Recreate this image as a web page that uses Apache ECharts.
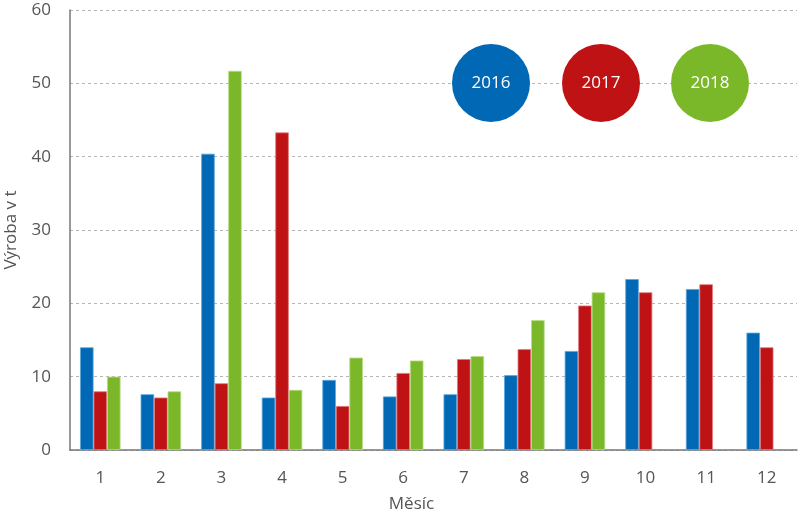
<!DOCTYPE html>
<html>
<head>
<meta charset="utf-8">
<script src="https://cdn.jsdelivr.net/npm/echarts@6/dist/echarts.min.js"></script>
<style>html,body{margin:0;padding:0;background:#fff}#c{width:800px;height:521px}</style>
</head>
<body>
<div id="c"></div>
<script>
const months = ['1','2','3','4','5','6','7','8','9','10','11','12'];
const years = ['2016','2017','2018'];
const colors = ['#0068b4','#be1215','#7ab829'];
const borders = ['#5aa7dc','#e07a7c','#b6dc86'];
const v2016 = [14.0, 7.6, 40.4, 7.15, 9.55, 7.3, 7.6, 10.2, 13.5, 23.3, 21.95, 16.0];
const v2017 = [8.0, 7.15, 9.1, 43.3, 6.0, 10.5, 12.4, 13.75, 19.7, 21.5, 22.6, 14.0];
const v2018 = [10.0, 8.0, 51.7, 8.2, 12.6, 12.2, 12.8, 17.7, 21.5, null, null, null];
const yTicks = [0, 10, 20, 30, 40, 50, 60];
const allValues = [v2016, v2017, v2018];

const chart = echarts.init(document.getElementById('c'));
const font = '"Open Sans", sans-serif';
const legendX = [491, 601, 710];
const graphics = [];
years.forEach((y, i) => {
  graphics.push({type:'circle', shape:{cx:legendX[i], cy:83, r:39}, style:{fill:colors[i]}, z:100});
  graphics.push({type:'text', x:legendX[i], y:83, style:{text:y, fill:'#fff', font:'17px ' + font, textAlign:'center', textVerticalAlign:'middle'}, z:101});
});
chart.setOption({
  animation:false,
  grid:{left:70, right:3, top:10, bottom:71, containLabel:false, outerBoundsMode:'none'},
  graphic: graphics,
  xAxis:{
    type:'category', data:months,
    name:'Měsíc', nameLocation:'middle', nameGap:46,
    nameTextStyle:{color:'#555', fontSize:17, fontFamily:font, padding:[0,44,0,0]},
    axisLine:{lineStyle:{color:'#777', width:1.5}},
    axisTick:{show:false},
    axisLabel:{color:'#555', fontSize:17, fontFamily:font, margin:20}
  },
  yAxis:{
    type:'value', min:yTicks[0], max:yTicks[yTicks.length-1], interval:10,
    name:'Výroba v t', nameLocation:'middle', nameGap:50,
    nameTextStyle:{color:'#555', fontSize:17, fontFamily:font},
    axisLine:{show:true, lineStyle:{color:'#777', width:1.5}},
    axisTick:{show:false},
    axisLabel:{color:'#555', fontSize:17, fontFamily:font, margin:19},
    splitLine:{lineStyle:{color:'#b5b5b5', type:[3,3], width:1}}
  },
  series: years.map((y, i) => ({
    name:y, type:'bar', data:allValues[i], barWidth:13.5, barGap:'0%',
    itemStyle:{color:colors[i], borderColor:borders[i], borderWidth:0.8}
  }))
});
</script>
</body>
</html>
